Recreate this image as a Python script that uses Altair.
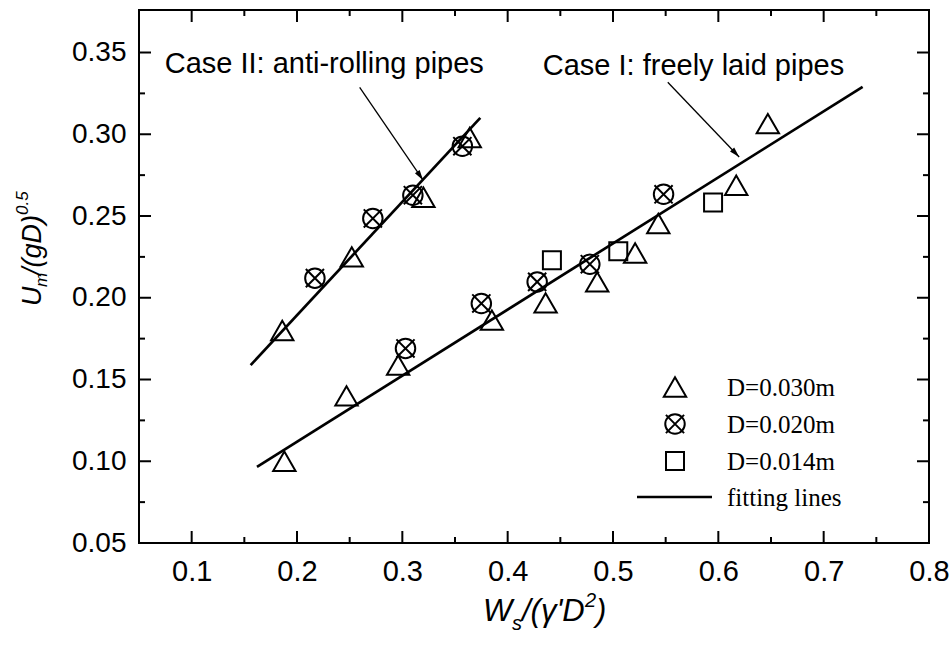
import numpy as np
import pandas as pd
import altair as alt

# ---------------- data ----------------
# Case II: anti-rolling pipes
case2_tri_x = [0.186, 0.252, 0.320, 0.364]
case2_tri_y = [0.180, 0.225, 0.2615, 0.298]
case2_cir_x = [0.217, 0.272, 0.310, 0.357]
case2_cir_y = [0.212, 0.2485, 0.2627, 0.2927]
# Case I: freely laid pipes
case1_tri_x = [0.188, 0.247, 0.296, 0.385, 0.436, 0.485, 0.521, 0.543, 0.617, 0.647]
case1_tri_y = [0.100, 0.140, 0.1588, 0.1863, 0.1969, 0.2097, 0.2274, 0.2454, 0.2688, 0.3065]
case1_cir_x = [0.303, 0.375, 0.428, 0.478, 0.548]
case1_cir_y = [0.169, 0.1965, 0.2097, 0.2205, 0.2633]
case1_sq_x = [0.442, 0.505, 0.595]
case1_sq_y = [0.223, 0.2285, 0.2583]
# fitting lines
fit1_x = [0.162, 0.737]
fit1_y = [0.0966, 0.329]
fit2_x = [0.156, 0.374]
fit2_y = [0.1588, 0.310]
# annotations
note_labels = ["Case II: anti-rolling pipes", "Case I: freely laid pipes"]
note_x = [0.0744, 0.4333]
note_y = [0.3373, 0.3361]
arrow_x = [0.2595, 0.552]
arrow_y = [0.3287, 0.3318]
arrow_x2 = [0.3197, 0.6198]
arrow_y2 = [0.2719, 0.2861]
legend_labels = ["D=0.030m", "D=0.020m", "D=0.014m", "fitting lines"]
# axes
x_major = [0.1, 0.2, 0.3, 0.4, 0.5, 0.6, 0.7, 0.8]
x_minor = [0.15, 0.25, 0.35, 0.45, 0.55, 0.65, 0.75]
y_major = [0.05, 0.10, 0.15, 0.20, 0.25, 0.30, 0.35]
y_minor = [0.075, 0.125, 0.175, 0.225, 0.275, 0.325]
XDOM = [0.05, 0.8]
YDOM = [0.05, 0.376]

# ---------------- layout ----------------
W, H = 790, 533
SANS = "Liberation Sans"
NARROW = "Liberation Sans Narrow, Liberation Sans"
SERIF = "Liberation Serif"
BLACK = "black"

xaxis = alt.Axis(values=x_major, format=".1f", title=None, ticks=False, domain=False,
                 grid=False, labelFont=NARROW, labelFontSize=29, labelPadding=14,
                 labelFlush=False, labelOverlap=False, labelColor=BLACK)
yaxis = alt.Axis(values=y_major, format=".2f", title=None, ticks=False, domain=False,
                 grid=False, labelFont=SANS, labelFontSize=28, labelPadding=13,
                 labelFlush=False, labelOverlap=False, labelColor=BLACK)


def X(f):
    return alt.X(f"{f}:Q", scale=alt.Scale(domain=XDOM, nice=False, zero=False), axis=xaxis)


def Y(f):
    return alt.Y(f"{f}:Q", scale=alt.Scale(domain=YDOM, nice=False, zero=False), axis=yaxis)


dummy = pd.DataFrame({"d": [0]})
sym = dict(filled=False, color=BLACK, strokeWidth=2, opacity=1)
XSHAPE = "M-1,-1L1,1M-1,1L1,-1"
ARROW = "M0,0L-0.28,-1L0.28,-1Z"

tri = pd.DataFrame({"x": case1_tri_x + case2_tri_x, "y": case1_tri_y + case2_tri_y})
cir = pd.DataFrame({"x": case1_cir_x + case2_cir_x, "y": case1_cir_y + case2_cir_y})
sq = pd.DataFrame({"x": case1_sq_x, "y": case1_sq_y})
fit = pd.DataFrame({"x": fit1_x + fit2_x, "y": fit1_y + fit2_y,
                    "case": ["I"] * len(fit1_x) + ["II"] * len(fit2_x)})

# arrow heading (screen pixels) for the arrow heads
px_x = W / (XDOM[1] - XDOM[0])
px_y = H / (YDOM[1] - YDOM[0])
dx = (np.array(arrow_x2) - np.array(arrow_x)) * px_x
dy = -(np.array(arrow_y2) - np.array(arrow_y)) * px_y
ang = (360 - np.degrees(np.arctan2(dx, dy))) % 360
arrows = pd.DataFrame({"x": arrow_x, "y": arrow_y, "x2": arrow_x2, "y2": arrow_y2, "ang": ang})
notes = pd.DataFrame({"label": note_labels, "x": note_x, "y": note_y})

layers = []

# fitting lines
layers.append(alt.Chart(fit).mark_line(color=BLACK, strokeWidth=2.7).encode(
    x=X("x"), y=Y("y"), detail="case:N"))
# data symbols
layers.append(alt.Chart(tri).mark_point(shape="triangle-up", size=500, **sym).encode(x=X("x"), y=Y("y")))
layers.append(alt.Chart(cir).mark_point(shape="circle", size=380, **sym).encode(x=X("x"), y=Y("y")))
layers.append(alt.Chart(cir).mark_point(shape=XSHAPE, size=330, **sym).encode(x=X("x"), y=Y("y")))
layers.append(alt.Chart(sq).mark_point(shape="square", size=324, **sym).encode(x=X("x"), y=Y("y")))

# annotations
layers.append(alt.Chart(arrows).mark_rule(color=BLACK, strokeWidth=1.3).encode(
    x=X("x"), y=Y("y"), x2="x2:Q", y2="y2:Q"))
layers.append(alt.Chart(arrows).mark_point(shape=ARROW, filled=True, size=420, color=BLACK, opacity=1).encode(
    x=X("x2"), y=Y("y2"), angle=alt.Angle("ang:Q", scale=None)))
layers.append(alt.Chart(notes).mark_text(font=SANS, fontSize=29, align="left", baseline="alphabetic",
                                         color=BLACK).encode(x=X("x"), y=Y("y"), text="label:N"))

# legend (inside plot, bottom right)
LX_SYM, LX_TXT = 536, 588
LROWS = [377, 414, 451, 487]
layers.append(alt.Chart(dummy).mark_point(shape="triangle-up", size=500, **sym).encode(
    x=alt.value(LX_SYM), y=alt.value(LROWS[0])))
layers.append(alt.Chart(dummy).mark_point(shape="circle", size=380, **sym).encode(
    x=alt.value(LX_SYM), y=alt.value(LROWS[1])))
layers.append(alt.Chart(dummy).mark_point(shape=XSHAPE, size=330, **sym).encode(
    x=alt.value(LX_SYM), y=alt.value(LROWS[1])))
layers.append(alt.Chart(dummy).mark_point(shape="square", size=324, **sym).encode(
    x=alt.value(LX_SYM), y=alt.value(LROWS[2])))
layers.append(alt.Chart(dummy).mark_rule(color=BLACK, strokeWidth=2.7).encode(
    x=alt.value(498), x2=alt.value(573), y=alt.value(LROWS[3])))
for lab, ry in zip(legend_labels, LROWS):
    layers.append(alt.Chart(dummy).mark_text(text=lab, font=SERIF, fontSize=25, align="left",
                                             baseline="middle", color=BLACK).encode(
        x=alt.value(LX_TXT), y=alt.value(ry + 1)))

# inward ticks on all four sides
for vals, ln in ((x_major, 12), (x_minor, 6)):
    d = pd.DataFrame({"v": vals})
    layers.append(alt.Chart(d).mark_rule(color=BLACK, strokeWidth=2).encode(
        x=X("v"), y=alt.value(H), y2=alt.value(H - ln)))
    layers.append(alt.Chart(d).mark_rule(color=BLACK, strokeWidth=2).encode(
        x=X("v"), y=alt.value(0), y2=alt.value(ln)))
for vals, ln in ((y_major, 12), (y_minor, 6)):
    d = pd.DataFrame({"v": vals})
    layers.append(alt.Chart(d).mark_rule(color=BLACK, strokeWidth=2).encode(
        y=Y("v"), x=alt.value(0), x2=alt.value(ln)))
    layers.append(alt.Chart(d).mark_rule(color=BLACK, strokeWidth=2).encode(
        y=Y("v"), x=alt.value(W), x2=alt.value(W - ln)))


def seg(text, x, y, size, angle=0, font=SANS):
    kw = dict(text=text, font=font, fontSize=size, fontStyle="italic", align="left",
              baseline="alphabetic", color=BLACK)
    if angle:
        kw["angle"] = angle
    return alt.Chart(dummy).mark_text(**kw).encode(x=alt.value(x), y=alt.value(y))


# x title: W_s/(γ'D^2)
layers += [
    seg("W", 344, 611, 31),
    seg("s", 373, 620, 20),
    seg("/(γ'D", 383, 611, 31),
    seg("2", 446, 597, 20),
    seg(")", 457, 611, 31),
]
# y title: U_m/(gD)^0.5 (rotated)
layers += [
    seg("U", -98, 296, 27, 270),
    seg("m", -92, 277, 17, 270),
    seg("/(gD)", -98, 265, 27, 270),
    seg("0.5", -111, 205, 17, 270),
]

chart = alt.layer(*layers).properties(
    width=W, height=H,
    padding={"left": 139, "top": 10, "right": 21, "bottom": 105},
    autosize=alt.AutoSizeParams(type="none"),
).configure_view(stroke=BLACK, strokeWidth=2)

chart.save("out.html", embed_options={"renderer": "svg", "actions": False})
